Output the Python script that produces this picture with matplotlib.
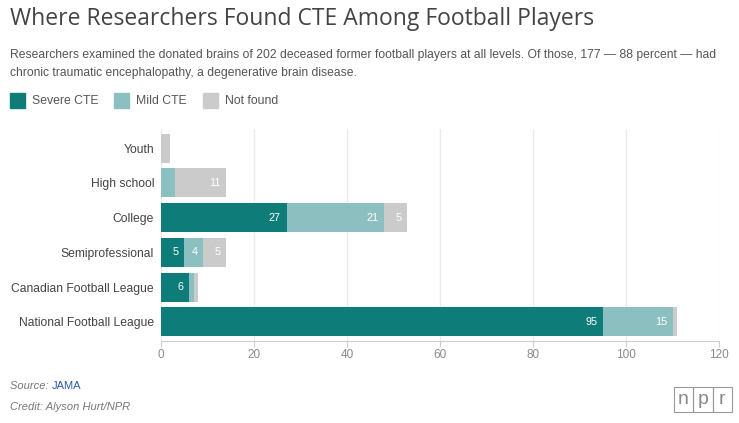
import numpy as np
import matplotlib.pyplot as plt
from matplotlib.patches import Rectangle

# Data
categories = ["Youth", "High school", "College", "Semiprofessional",
              "Canadian Football League", "National Football League"]
severe = [0, 0, 27, 5, 6, 95]
mild = [0, 3, 21, 4, 1, 15]
not_found = [2, 11, 5, 5, 1, 1]
series_names = ["Severe CTE", "Mild CTE", "Not found"]
x_ticks = [0, 20, 40, 60, 80, 100, 120]

COLORS = ["#0e7c79", "#8cc0c0", "#cbcbcb"]
TEXT = "#444444"
FONT = "Liberation Sans"

plt.rcParams["font.family"] = [FONT, "DejaVu Sans"]

fig = plt.figure(figsize=(7.39, 4.23), dpi=100)
W, H = 739, 423

# ─── Title / subtitle ───────────────────────────────────────
fig.text(10 / W, 1 - 19 / H, "Where Researchers Found CTE Among Football Players",
         fontsize=16.5, color="#444444", va="center", ha="left",
         family=["Open Sans", FONT])
fig.text(10 / W, 1 - 55 / H,
         "Researchers examined the donated brains of 202 deceased former football players at all levels. Of those, 177 \u2014 88 percent \u2014 had",
         fontsize=8.75, color="#555555", va="center", ha="left")
fig.text(10 / W, 1 - 73 / H,
         "chronic traumatic encephalopathy, a degenerative brain disease.",
         fontsize=8.75, color="#555555", va="center", ha="left")

# ─── Legend ─────────────────────────────────────────────────
leg_x = [10, 114, 203]
for lx, name, col in zip(leg_x, series_names, COLORS):
    fig.patches.append(Rectangle((lx / W, 1 - 108 / H), 15 / W, 15 / H,
                                 transform=fig.transFigure, color=col))
    fig.text((lx + 22) / W, 1 - 101 / H, name, fontsize=8.8, color="#555555",
             va="center", ha="left")

# ─── Bars ───────────────────────────────────────────────────
ax = fig.add_axes([161 / W, 1 - 341 / H, 558 / W, 212 / H])
y = np.arange(len(categories))
left = np.zeros(len(categories))
for vals, col in zip([severe, mild, not_found], COLORS):
    vals = np.array(vals, dtype=float)
    ax.barh(y, vals, left=left, height=0.84, color=col, zorder=3)
    for yi, (l, v) in enumerate(zip(left, vals)):
        if v >= 4:
            ax.annotate(f"{int(v)}", (l + v, yi), xytext=(-4, 0),
                        textcoords="offset points", ha="right", va="center",
                        color="white", fontsize=7.8, zorder=4)
    left += vals

ax.set_xlim(0, 120)
ax.set_ylim(len(categories) - 0.45, -0.55)
ax.set_xticks(x_ticks)
ax.set_xticklabels([str(t) for t in x_ticks], color="#8a8a8a", fontsize=8.5)
ax.tick_params(axis="x", length=4, color="#cccccc", pad=2)
ax.set_yticks(y)
ax.set_yticklabels(categories, color=TEXT, fontsize=8.7)
ax.tick_params(axis="y", length=0, pad=5)
ax.grid(axis="x", color="#ebebeb", lw=1, zorder=0)
for side in ["top", "right", "left"]:
    ax.spines[side].set_visible(False)
ax.spines["bottom"].set_color("#cccccc")

# ─── Footer ─────────────────────────────────────────────────
fig.text(10 / W, 1 - 386 / H, "Source: ", fontsize=8, style="italic",
         color="#777777", va="center", ha="left")
fig.text(52 / W, 1 - 386 / H, "JAMA", fontsize=8, color="#2a5aa8",
         va="center", ha="left")
fig.text(10 / W, 1 - 407 / H, "Credit: Alyson Hurt/NPR", fontsize=8,
         style="italic", color="#777777", va="center", ha="left")

# NPR logo
for i, letter in enumerate("npr"):
    x0 = 674 + i * 19.3
    fig.patches.append(Rectangle((x0 / W, 1 - 412 / H), 19.3 / W, 25 / H,
                                 transform=fig.transFigure, fill=False,
                                 edgecolor="#999999", lw=0.8))
    fig.text((x0 + 9.6) / W, 1 - 399 / H, letter, fontsize=14,
             color="#8a8a8a", ha="center", va="center")

fig.savefig("out.png", dpi=100)
